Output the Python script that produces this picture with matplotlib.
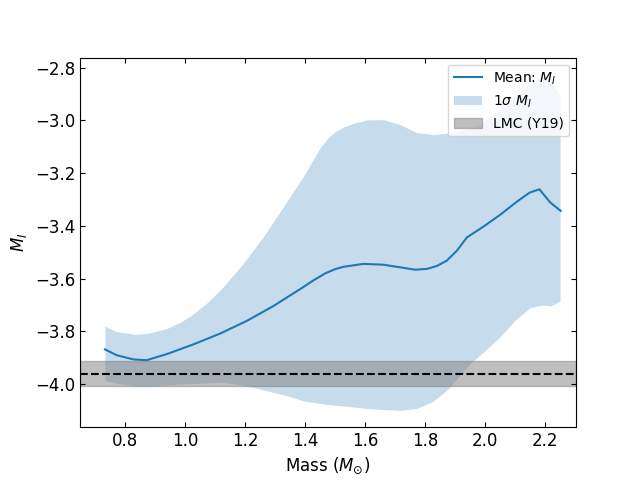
import numpy as np
import matplotlib
matplotlib.use("Agg")
import matplotlib.pyplot as plt

# mean M_I vs mass
mass_mean = [0.733, 0.772, 0.828, 0.872, 0.939, 1.028, 1.117, 1.206, 1.294, 1.383,
             1.430, 1.467, 1.500, 1.528, 1.594, 1.661, 1.717, 1.767, 1.806, 1.839,
             1.872, 1.906, 1.939, 1.994, 2.050, 2.106, 2.148, 2.181, 2.217, 2.252]
mi_mean = [-3.868, -3.890, -3.906, -3.909, -3.886, -3.849, -3.808, -3.760, -3.704, -3.640,
           -3.605, -3.580, -3.564, -3.555, -3.544, -3.547, -3.557, -3.566, -3.563, -3.552,
           -3.532, -3.494, -3.444, -3.403, -3.358, -3.308, -3.274, -3.261, -3.311, -3.343]

# 1 sigma band edges
mass_band = [0.733, 0.772, 0.833, 0.872, 0.939, 0.980, 1.020, 1.075, 1.128, 1.194,
             1.261, 1.328, 1.394, 1.450, 1.475, 1.500, 1.530, 1.565, 1.606, 1.661,
             1.717, 1.772, 1.828, 1.878, 1.950, 2.000, 2.050, 2.100, 2.150, 2.190,
             2.220, 2.250]
mi_upper = [-3.780, -3.801, -3.811, -3.808, -3.789, -3.768, -3.740, -3.690, -3.630, -3.542,
            -3.441, -3.327, -3.213, -3.105, -3.068, -3.043, -3.024, -3.010, -2.998, -2.997,
            -3.016, -3.046, -3.054, -3.048, -3.030, -3.000, -2.960, -2.910, -2.860, -2.830,
            -2.860, -2.900]
mi_lower = [-3.985, -3.997, -4.006, -4.008, -4.003, -4.000, -3.998, -3.995, -3.993, -4.004,
            -4.022, -4.040, -4.063, -4.073, -4.077, -4.080, -4.083, -4.087, -4.092, -4.096,
            -4.099, -4.092, -4.064, -4.017, -3.922, -3.873, -3.820, -3.758, -3.710, -3.700,
            -3.703, -3.684]

LMC_MI = -3.96
LMC_ERR = 0.047

fig, ax = plt.subplots(figsize=(6.4, 4.8), dpi=100)
ax.plot(mass_mean, mi_mean, color="C0", lw=1.5, label=r"Mean: $M_I$")
ax.fill_between(mass_band, mi_lower, mi_upper, color="C0", alpha=0.25, lw=0,
                label=r"1$\sigma$ $M_I$")
ax.axhspan(LMC_MI - LMC_ERR, LMC_MI + LMC_ERR, color="gray", alpha=0.5, label="LMC (Y19)")
ax.axhline(LMC_MI, color="black", ls="--", lw=1.5)

ax.set_xlim(0.65, 2.303)
ax.set_ylim(-4.163, -2.762)
ax.set_xlabel(r"Mass ($M_{\odot}$)", fontsize=12)
ax.set_ylabel(r"$M_I$", fontsize=12)
ax.tick_params(direction="in", top=True, right=True, labelsize=12)
ax.legend(loc="upper right")

fig.savefig("out.png")
